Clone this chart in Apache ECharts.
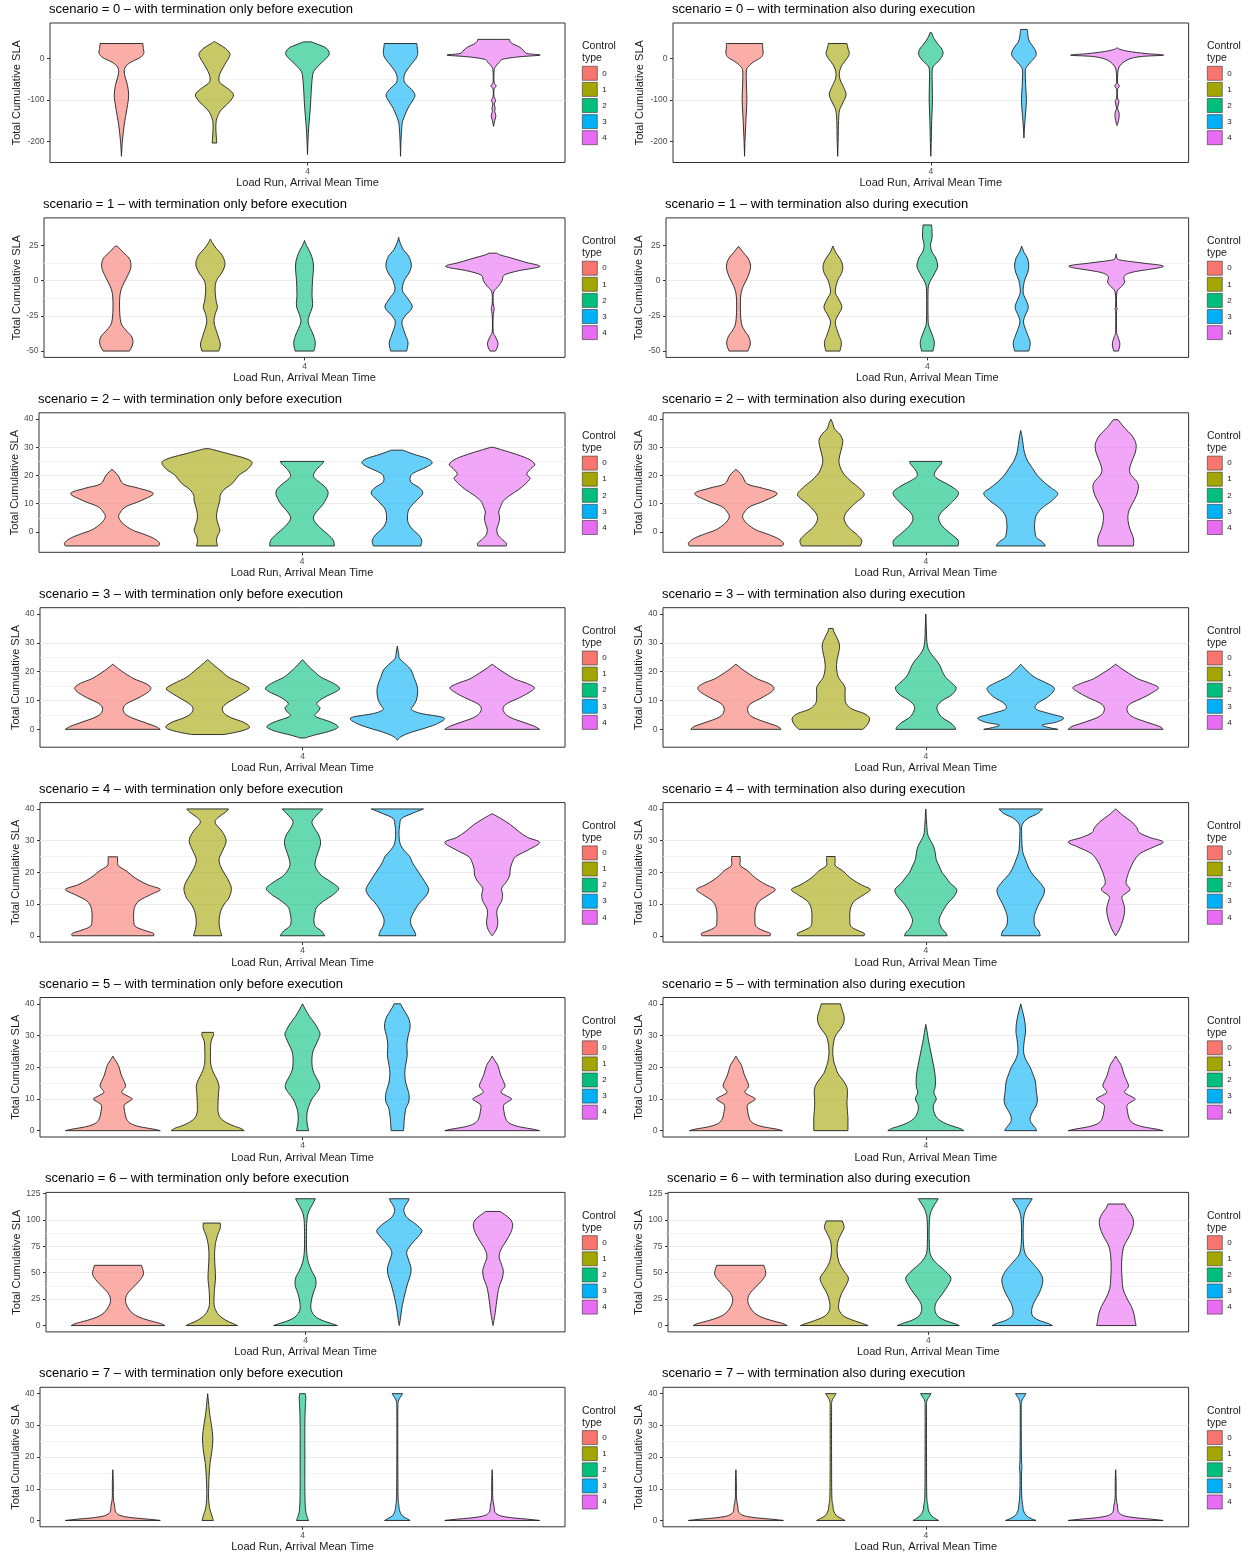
<!DOCTYPE html>
<html><head><meta charset="utf-8">
<script src="https://cdn.jsdelivr.net/npm/echarts@6/dist/echarts.min.js"></script>
<style>html,body{margin:0;padding:0;background:#fff}#c{width:1254px;height:1557px}</style>
</head><body><div id="c"></div><script>
// ---------------- data ----------------
const CONTROL_TYPES = ['0','1','2','3','4'];
const COLORS = ['#F8766D','#A3A500','#00BF7D','#00B0F6','#E76BF3'];
const SCENARIOS = [0,1,2,3,4,5,6,7];
const TERMINATION = ['with termination only before execution','with termination also during execution'];
const X_TICK_LABELS = ['4'];
const Y_LIMITS = [[-251,85.5],[-54.5,44.5],[-7.25,42.25],[-6.2,42.2],[-2,42],[-2,42],[-6,126],[-2,42]];
const Y_TICKS = [[-200,-100,0],[-50,-25,0,25],[0,10,20,30,40],[0,10,20,30,40],[0,10,20,30,40],[0,10,20,30,40],[0,25,50,75,100,125],[0,10,20,30,40]];
const Y_MINOR = [[-150,-50,50],[-37.5,-12.5,12.5,37.5],[-5,5,15,25,35],[-5,5,15,25,35],[5,15,25,35],[5,15,25,35],[12.5,37.5,62.5,87.5,112.5],[5,15,25,35]];

// violin outlines: [Total Cumulative SLA, relative half-width (1 = widest)] per control type 0..4
const S0_BEFORE = [
 [[-236,0],[-200,0.02],[-160,0.06],[-120,0.12],[-90,0.155],[-65,0.13],[-45,0.08],[-30,0.06],[-18,0.1],[-8,0.22],[2,0.4],[12,0.48],[24,0.47],[36,0.46]],
 [[-204,0.05],[-190,0.04],[-165,0.03],[-145,0.05],[-125,0.14],[-105,0.32],[-88,0.41],[-74,0.3],[-60,0.13],[-50,0.095],[-36,0.12],[-15,0.22],[2,0.31],[12,0.33],[24,0.24],[34,0.1],[41,0]],
 [[-232,0],[-200,0.01],[-160,0.03],[-120,0.06],[-80,0.08],[-50,0.1],[-32,0.13],[-16,0.25],[0,0.4],[12,0.47],[25,0.4],[34,0.22],[40,0.08]],
 [[-236,0],[-200,0.01],[-170,0.025],[-150,0.05],[-120,0.16],[-100,0.27],[-88,0.31],[-75,0.24],[-60,0.1],[-48,0.07],[-35,0.1],[-20,0.19],[0,0.33],[12,0.37],[25,0.36],[36,0.35]],
 [[-164,0],[-150,0.025],[-138,0.05],[-128,0.025],[-120,0.035],[-110,0.015],[-101,0.045],[-92,0.01],[-75,0.01],[-66,0.055],[-57,0.01],[-30,0.012],[-20,0.04],[-10,0.12],[-2,0.2],[4,0.55],[8,1.0],[12,0.72],[20,0.64],[28,0.55],[36,0.4],[42,0.35],[46,0.34]]
];
const S0_DURING = [
 [[-236,0],[-200,0.01],[-150,0.03],[-100,0.05],[-60,0.04],[-30,0.04],[-20,0.08],[-8,0.2],[2,0.35],[12,0.4],[25,0.39],[36,0.39]],
 [[-236,0],[-200,0.01],[-150,0.02],[-125,0.04],[-110,0.1],[-88,0.18],[-70,0.13],[-50,0.05],[-32,0.04],[-15,0.1],[0,0.2],[12,0.25],[25,0.22],[36,0.2]],
 [[-236,0],[-200,0.01],[-150,0.02],[-100,0.035],[-60,0.03],[-30,0.03],[-18,0.06],[-5,0.18],[10,0.26],[22,0.24],[35,0.15],[50,0.06],[62,0.02]],
 [[-192,0],[-170,0.01],[-140,0.03],[-110,0.05],[-90,0.05],[-60,0.035],[-30,0.03],[-20,0.06],[-8,0.15],[5,0.25],[15,0.26],[28,0.2],[40,0.12],[52,0.09],[62,0.08],[70,0.07]],
 [[-162,0],[-150,0.03],[-140,0.045],[-130,0.04],[-120,0.01],[-104,0.04],[-95,0.01],[-75,0.01],[-66,0.05],[-58,0.01],[-30,0.02],[-18,0.06],[-8,0.15],[0,0.3],[5,0.55],[8,1.0],[12,0.6],[17,0.25],[22,0.06],[26,0]]
];
const S1_BEFORE = [
 [[-50,0.28],[-45,0.35],[-40,0.33],[-35,0.2],[-30,0.1],[-20,0.07],[-10,0.08],[-4,0.13],[2,0.22],[8,0.3],[12,0.31],[16,0.27],[20,0.15],[24.5,0.02]],
 [[-50,0.18],[-45,0.21],[-38,0.15],[-30,0.08],[-24,0.1],[-19,0.15],[-14,0.12],[-6,0.1],[0,0.13],[6,0.25],[12,0.31],[18,0.25],[23,0.12],[27,0.04],[29.6,0]],
 [[-50,0.2],[-44,0.23],[-38,0.18],[-30,0.08],[-25,0.1],[-18,0.17],[-10,0.16],[0,0.17],[8,0.19],[14,0.18],[20,0.12],[25,0.04],[28.5,0]],
 [[-50,0.17],[-44,0.2],[-38,0.14],[-30,0.07],[-25,0.14],[-19,0.29],[-13,0.2],[-7,0.08],[0,0.12],[6,0.23],[11,0.27],[17,0.22],[22,0.1],[27,0.03],[30.8,0]],
 [[-50,0.06],[-47,0.1],[-44,0.11],[-40,0.06],[-36,0.01],[-25,0.01],[-20,0.03],[-16,0.01],[-8,0.02],[-4,0.12],[0,0.2],[4,0.25],[7,0.55],[10,1.0],[13,0.7],[16,0.4],[18,0.18],[19.5,0.08]]
];
const S1_DURING = [
 [[-50,0.2],[-45,0.25],[-40,0.22],[-35,0.12],[-30,0.06],[-20,0.04],[-10,0.05],[-4,0.1],[2,0.19],[8,0.25],[12,0.25],[16,0.2],[20,0.1],[24,0.01]],
 [[-50,0.15],[-44,0.18],[-38,0.12],[-30,0.05],[-25,0.1],[-19,0.19],[-13,0.12],[-8,0.05],[0,0.1],[5,0.18],[10,0.21],[15,0.16],[20,0.06],[24.5,0]],
 [[-50,0.12],[-44,0.15],[-38,0.1],[-32,0.03],[-25,0.015],[-10,0.015],[-3,0.03],[3,0.12],[8,0.2],[11,0.22],[16,0.18],[21,0.09],[26,0.07],[30,0.1],[35,0.1],[39.5,0.09]],
 [[-50,0.15],[-44,0.18],[-38,0.12],[-30,0.04],[-25,0.07],[-19,0.14],[-13,0.08],[-8,0.03],[0,0.06],[6,0.13],[11,0.15],[16,0.12],[20,0.05],[24.5,0]],
 [[-50,0.05],[-45,0.08],[-40,0.04],[-36,0.01],[-22,0.01],[-20,0.025],[-18,0.01],[-8,0.02],[-4,0.12],[-1,0.18],[3,0.17],[6,0.35],[10,1.0],[12.5,0.55],[14.5,0.1],[16,0.02],[19,0]]
];
const S2_BEFORE = [
 [[-5,0.98],[-4,1.0],[-2.5,0.9],[-1,0.7],[0.5,0.45],[2,0.3],[3.5,0.2],[5.3,0.14],[7,0.18],[9,0.3],[11,0.6],[13.6,0.87],[15.5,0.56],[17,0.24],[20,0.13],[22.2,0]],
 [[-5,0.22],[-3,0.2],[-1.5,0.22],[0.5,0.27],[2.5,0.24],[5,0.2],[8,0.22],[11,0.27],[13,0.28],[15,0.36],[17,0.52],[19,0.62],[20.5,0.7],[22,0.84],[24.5,0.95],[26,0.82],[27.5,0.5],[29.5,0.05]],
 [[-5,0.68],[-3,0.66],[-1,0.55],[2,0.35],[4.7,0.24],[7,0.3],[10,0.45],[13.6,0.55],[16,0.48],[18.5,0.3],[20,0.24],[22,0.3],[24,0.42],[25,0.46]],
 [[-5,0.5],[-3,0.52],[-1,0.45],[1,0.32],[3,0.24],[5,0.22],[8,0.25],[11,0.4],[13.5,0.54],[15.5,0.48],[17.5,0.3],[19.5,0.28],[21,0.36],[23,0.62],[24.5,0.74],[26,0.64],[27.5,0.36],[29,0.12]],
 [[-5,0.3],[-4,0.3],[-2.5,0.2],[-1,0.12],[1,0.1],[3,0.14],[5,0.16],[7,0.14],[9,0.18],[11,0.24],[13,0.38],[15,0.56],[17,0.7],[19,0.8],[20.5,0.73],[22.5,0.82],[24,0.9],[26,0.75],[28,0.42],[30,0.03]]
];
const S2_DURING = [
 [[-5,0.98],[-4,1.0],[-2.5,0.9],[-1,0.7],[0.5,0.45],[2,0.3],[3.5,0.2],[5.3,0.14],[7,0.18],[9,0.3],[11,0.6],[13.6,0.87],[15.5,0.56],[17,0.24],[20,0.13],[22.2,0]],
 [[-5,0.62],[-3,0.65],[-1,0.55],[1.5,0.38],[3.5,0.3],[5,0.28],[7,0.33],[10,0.5],[13,0.7],[15.5,0.6],[18,0.42],[20,0.3],[22,0.22],[25,0.17],[28,0.2],[30,0.23],[32.4,0.25],[34.6,0.19],[36.5,0.08],[38.5,0.04],[40,0]],
 [[-5,0.68],[-3,0.68],[-1,0.55],[2,0.35],[4.7,0.27],[7,0.33],[10,0.52],[13.6,0.69],[16,0.55],[18.5,0.28],[20,0.18],[22,0.22],[24,0.32],[25,0.34]],
 [[-5,0.52],[-3.5,0.45],[-2,0.33],[0,0.3],[2,0.29],[4,0.3],[6,0.33],[8.5,0.45],[11,0.65],[13.6,0.78],[15.5,0.65],[17.5,0.5],[20,0.35],[22.5,0.25],[25,0.15],[28,0.08],[31,0.05],[33.5,0.03],[36,0]],
 [[-5,0.37],[-3,0.38],[-1,0.35],[1,0.3],[4,0.26],[7,0.27],[10,0.35],[13,0.44],[16,0.48],[18,0.44],[20,0.33],[22,0.29],[25,0.34],[28,0.41],[31,0.43],[34,0.35],[37,0.18],[39.8,0.05]]
];
const S3_BEFORE = [
 [[0,1.0],[1,0.9],[2.5,0.65],[4,0.4],[5.5,0.25],[7.4,0.22],[9,0.3],[11,0.55],[13,0.75],[14.5,0.8],[16,0.68],[17.5,0.45],[19.5,0.25],[21,0.12],[22.6,0]],
 [[-1.8,0.34],[-1,0.6],[0,0.82],[1,0.88],[2.5,0.75],[4,0.5],[5.5,0.35],[7.4,0.31],[9,0.4],[11,0.6],[13,0.8],[14.3,0.87],[16,0.7],[18,0.45],[20,0.3],[22,0.15],[24.2,0]],
 [[-3,0.05],[-2,0.25],[-1,0.5],[0,0.68],[1,0.75],[2.5,0.6],[4.5,0.27],[6,0.32],[7.4,0.37],[9,0.3],[11,0.45],[13,0.7],[14.3,0.78],[16,0.65],[18,0.4],[20,0.25],[22,0.12],[24.2,0]],
 [[-3.8,0],[-2.5,0.08],[-1,0.3],[0.5,0.6],[2,0.85],[4,0.98],[5.5,0.5],[6.8,0.3],[8,0.33],[10,0.4],[13,0.43],[15.4,0.41],[18,0.35],[20.6,0.29],[22.5,0.18],[24.5,0.05],[26,0.03],[28.9,0]],
 [[0,1.0],[1,0.9],[2.5,0.65],[4,0.4],[5.5,0.27],[7.4,0.23],[9,0.32],[11,0.58],[13,0.8],[14.5,0.89],[16,0.72],[17.5,0.47],[19.5,0.27],[21,0.13],[22.6,0]]
];
const S3_DURING = [
 [[0,0.95],[1,0.88],[2.5,0.62],[4,0.38],[5.5,0.27],[7.4,0.25],[9,0.32],[11,0.55],[13,0.75],[14.5,0.8],[16,0.68],[17.5,0.45],[19.5,0.25],[21,0.12],[22.6,0]],
 [[0,0.67],[1,0.74],[2.5,0.8],[4,0.81],[5.5,0.7],[7,0.45],[9,0.32],[11,0.3],[13,0.3],[14.5,0.3],[16,0.25],[18,0.16],[21,0.12],[24,0.13],[27,0.17],[29.5,0.18],[32,0.12],[34,0.06],[35,0.05]],
 [[0,0.63],[1,0.6],[2.5,0.5],[4,0.35],[6,0.26],[8,0.24],[10,0.35],[12,0.55],[14.3,0.64],[16,0.55],[18,0.42],[20,0.35],[22,0.3],[24,0.22],[26,0.12],[28,0.05],[31,0.02],[36,0.01],[40,0]],
 [[0,0.78],[0.6,0.6],[1.5,0.45],[2.5,0.75],[4,0.9],[5.5,0.6],[7,0.32],[9,0.35],[11,0.55],[13,0.68],[14.5,0.7],[16,0.55],[18,0.3],[20,0.15],[22.6,0]],
 [[0,1.0],[1,0.92],[2.5,0.65],[4,0.4],[5.5,0.27],[7.4,0.24],[9,0.32],[11,0.58],[13,0.8],[14.5,0.9],[16,0.72],[17.5,0.47],[19.5,0.27],[21,0.13],[22.6,0]]
];
const S4_BEFORE = [
 [[0,0.86],[0.8,0.85],[1.8,0.65],[3,0.47],[5,0.44],[7,0.44],[9,0.46],[11,0.55],[13,0.8],[14.6,1.0],[16,0.75],[17.5,0.55],[19,0.4],[20.5,0.28],[22,0.12],[23.5,0.1],[24.9,0.1]],
 [[0,0.3],[2,0.26],[4,0.24],[6,0.25],[8,0.28],[10,0.35],[12,0.45],[15,0.5],[18,0.42],[21,0.3],[24,0.24],[27,0.32],[30,0.39],[33,0.3],[35.5,0.16],[37,0.2],[39,0.38],[40,0.44]],
 [[0,0.47],[1.5,0.4],[3,0.27],[5,0.24],[7,0.26],[9,0.3],[11,0.45],[13,0.65],[15,0.76],[17,0.6],[19,0.4],[21.5,0.28],[23.5,0.27],[26,0.32],[29,0.38],[31.5,0.35],[34,0.25],[36,0.2],[38,0.3],[40,0.43]],
 [[0,0.39],[1.5,0.36],[3,0.3],[5,0.28],[7,0.33],[10,0.45],[12.5,0.6],[14.6,0.66],[17,0.58],[20,0.45],[23,0.32],[25,0.26],[27,0.14],[29,0.06],[32,0.035],[35,0.05],[37,0.09],[38.5,0.3],[40,0.55]],
 [[0,0],[1,0.05],[2.5,0.1],[4.5,0.12],[6.5,0.1],[8.5,0.11],[11,0.2],[13,0.22],[15,0.2],[17,0.3],[19,0.37],[21,0.38],[23,0.42],[25,0.5],[27,0.75],[29.4,1.0],[31,0.75],[33,0.55],[35,0.39],[37,0.18],[38.5,0]]
];
const S4_DURING = [
 [[0,0.72],[0.8,0.72],[1.8,0.55],[3,0.42],[5,0.4],[7,0.4],[9,0.42],[11,0.5],[13,0.7],[14.6,0.83],[16,0.65],[17.5,0.48],[19,0.35],[20.5,0.25],[22,0.1],[23.5,0.09],[25,0.09]],
 [[0,0.7],[0.8,0.7],[1.8,0.55],[3,0.42],[5,0.4],[7,0.4],[9,0.42],[11,0.5],[13,0.7],[14.6,0.83],[16,0.65],[17.5,0.48],[19,0.35],[20.5,0.25],[22,0.1],[23.5,0.09],[25,0.09]],
 [[0,0.45],[1,0.42],[2,0.35],[3.5,0.3],[5,0.28],[7,0.33],[10,0.45],[12.5,0.6],[14.6,0.65],[16.5,0.52],[18.5,0.42],[20,0.34],[22,0.28],[24,0.22],[26,0.2],[28,0.17],[30,0.1],[32,0.04],[35,0.02],[40,0]],
 [[0,0.41],[1.5,0.38],[3,0.3],[5,0.28],[7,0.3],[10,0.38],[12.5,0.47],[14.6,0.5],[16.5,0.42],[18.5,0.3],[20,0.22],[22,0.15],[24,0.1],[26,0.05],[28,0.03],[32,0.02],[35,0.03],[37,0.15],[38.5,0.35],[40,0.46]],
 [[0,0],[1.5,0.06],[3.5,0.12],[6,0.17],[8.5,0.19],[11,0.15],[12.5,0.14],[14.5,0.3],[16.5,0.22],[19,0.25],[21,0.3],[23.5,0.38],[26,0.52],[28,0.8],[29.6,1.0],[31,0.72],[32.5,0.5],[34,0.45],[36,0.33],[38,0.15],[40,0]]
];
const S5_BEFORE = [
 [[0,1.0],[0.5,0.85],[1,0.65],[1.5,0.5],[2.5,0.35],[4,0.28],[6,0.25],[8,0.24],[9,0.32],[10,0.41],[11,0.3],[12,0.19],[13,0.22],[14,0.27],[15.5,0.24],[17.5,0.18],[20.5,0.12],[22,0.06],[23.5,0]],
 [[0,0.77],[0.7,0.7],[1.5,0.55],[2.5,0.4],[4,0.27],[6,0.22],[9,0.22],[12,0.23],[14,0.24],[16,0.2],[18,0.13],[20,0.08],[22,0.06],[25,0.06],[28,0.07],[30,0.12],[31,0.12]],
 [[0,0.13],[2,0.1],[4,0.09],[6,0.1],[8,0.14],[10,0.2],[12,0.3],[13.5,0.36],[15,0.35],[17,0.28],[19,0.22],[21,0.2],[23,0.2],[25,0.22],[27,0.28],[29,0.34],[30.5,0.37],[32,0.33],[34,0.25],[36,0.15],[38,0.07],[40,0]],
 [[0,0.13],[2,0.14],[4,0.15],[7,0.18],[9,0.24],[11,0.25],[13,0.22],[15,0.18],[17,0.16],[19,0.16],[21,0.18],[24,0.21],[27,0.2],[30,0.23],[32.5,0.27],[35,0.25],[37,0.18],[39,0.1],[40,0.07]],
 [[0,1.0],[0.5,0.85],[1,0.65],[1.5,0.5],[2.5,0.35],[4,0.28],[6,0.25],[8,0.24],[9,0.32],[10,0.41],[11,0.3],[12,0.19],[13,0.22],[14,0.27],[15.5,0.24],[17.5,0.18],[20.5,0.12],[22,0.06],[23.5,0]]
];
const S5_DURING = [
 [[0,0.98],[0.5,0.85],[1,0.65],[1.5,0.5],[2.5,0.35],[4,0.28],[6,0.25],[8,0.24],[9,0.32],[10,0.41],[11,0.3],[12,0.19],[13,0.22],[14,0.27],[15.5,0.24],[17.5,0.18],[20.5,0.12],[22,0.06],[23.5,0]],
 [[0,0.36],[2,0.36],[4,0.36],[6,0.35],[9,0.34],[12,0.35],[14,0.33],[16,0.25],[18,0.15],[20,0.1],[22,0.06],[25,0.04],[28,0.06],[30,0.1],[32,0.2],[34,0.27],[36,0.28],[38,0.24],[40,0.2]],
 [[0,0.8],[0.7,0.72],[1.5,0.55],[2.5,0.38],[4,0.24],[6,0.17],[8,0.16],[10,0.22],[12,0.17],[14,0.2],[17,0.2],[20,0.17],[23,0.13],[26,0.09],[29,0.05],[31,0.03],[33.5,0]],
 [[0,0.34],[1,0.3],[2.5,0.22],[4,0.2],[6,0.25],[8,0.33],[10,0.35],[12,0.33],[14,0.32],[16,0.3],[18,0.25],[20,0.2],[22,0.12],[24,0.07],[26,0.06],[29,0.08],[31,0.1],[34,0.09],[37,0.05],[40,0]],
 [[0,1.0],[0.5,0.85],[1,0.65],[1.5,0.5],[2.5,0.35],[4,0.28],[6,0.25],[8,0.24],[9,0.32],[10,0.41],[11,0.3],[12,0.19],[13,0.22],[14,0.27],[15.5,0.24],[17.5,0.18],[20.5,0.12],[22,0.06],[23.5,0]]
];
const S6_BEFORE = [
 [[0,1.0],[2,0.9],[5,0.65],[8,0.45],[12,0.3],[18,0.2],[24,0.16],[30,0.2],[36,0.32],[42,0.45],[48,0.54],[53,0.53],[57,0.5]],
 [[0,0.55],[2,0.45],[5,0.3],[10,0.15],[15,0.08],[20,0.05],[28,0.05],[35,0.06],[45,0.08],[55,0.07],[65,0.06],[75,0.07],[85,0.12],[92,0.18],[97,0.18]],
 [[0,0.68],[2,0.55],[5,0.35],[9,0.2],[15,0.12],[22,0.12],[30,0.16],[38,0.22],[45,0.21],[52,0.13],[60,0.06],[70,0.025],[85,0.02],[100,0.03],[108,0.07],[114,0.14],[120,0.21]],
 [[0,0],[5,0.02],[12,0.04],[20,0.07],[30,0.12],[40,0.18],[48,0.24],[55,0.25],[62,0.2],[70,0.16],[78,0.28],[85,0.42],[90,0.48],[96,0.35],[102,0.17],[108,0.1],[113,0.12],[117,0.18],[120,0.21]],
 [[0,0],[5,0.02],[10,0.04],[20,0.07],[30,0.1],[38,0.14],[45,0.2],[52,0.22],[58,0.18],[65,0.13],[72,0.17],[80,0.28],[88,0.38],[95,0.42],[100,0.38],[104,0.28],[108,0.15]]
];
const S6_DURING = [
 [[0,1.0],[2,0.9],[5,0.65],[8,0.45],[12,0.3],[18,0.2],[24,0.16],[30,0.2],[36,0.32],[42,0.45],[48,0.54],[53,0.53],[57,0.5]],
 [[0,0.72],[2,0.6],[5,0.4],[9,0.2],[15,0.1],[22,0.1],[30,0.15],[38,0.25],[45,0.3],[52,0.2],[60,0.1],[70,0.06],[80,0.08],[87,0.15],[93,0.21],[99,0.17]],
 [[0,0.66],[2,0.55],[5,0.35],[9,0.2],[15,0.14],[22,0.17],[30,0.3],[38,0.42],[45,0.48],[52,0.35],[60,0.15],[68,0.04],[80,0.02],[95,0.02],[105,0.04],[112,0.1],[117,0.17],[120,0.21]],
 [[0,0.64],[2,0.55],[5,0.35],[9,0.22],[15,0.2],[22,0.25],[30,0.35],[38,0.42],[45,0.43],[52,0.35],[60,0.2],[68,0.06],[80,0.02],[95,0.02],[105,0.04],[112,0.1],[117,0.17],[120,0.21]],
 [[0,0.42],[4,0.4],[10,0.38],[18,0.32],[26,0.22],[35,0.14],[45,0.12],[55,0.11],[65,0.12],[75,0.16],[85,0.28],[93,0.35],[100,0.36],[106,0.3],[111,0.22],[115,0.18]]
];
const S7_BEFORE = [
 [[0,1.0],[0.4,0.75],[0.8,0.45],[1.3,0.22],[2,0.1],[3,0.05],[4.5,0.04],[6,0.02],[8,0.01],[12,0.01],[16,0]],
 [[0,0.12],[2,0.08],[4,0.04],[7,0.02],[10,0.02],[14,0.03],[18,0.05],[22,0.09],[26,0.11],[30,0.08],[34,0.04],[37,0.02],[40,0]],
 [[0,0.13],[1.5,0.09],[4,0.06],[10,0.05],[20,0.05],[30,0.05],[36,0.06],[38.5,0.07],[40,0.06]],
 [[0,0.27],[0.6,0.2],[1.5,0.1],[3,0.05],[5,0.03],[8,0.015],[20,0.01],[34,0.01],[37.5,0.02],[39,0.07],[40,0.11]],
 [[0,1.0],[0.4,0.75],[0.8,0.45],[1.3,0.22],[2,0.1],[3,0.05],[4.5,0.04],[6,0.02],[8,0.01],[12,0.01],[16,0]]
];
const S7_DURING = [
 [[0,1.0],[0.4,0.75],[0.8,0.45],[1.3,0.22],[2,0.1],[3,0.05],[4.5,0.04],[6,0.02],[8,0.01],[12,0.01],[16,0]],
 [[0,0.3],[0.6,0.22],[1.5,0.12],[3,0.06],[5,0.04],[8,0.02],[20,0.015],[34,0.015],[37.5,0.02],[39,0.07],[40,0.11]],
 [[0,0.27],[0.6,0.2],[1.5,0.12],[3,0.06],[5,0.04],[8,0.02],[20,0.015],[34,0.015],[37.5,0.02],[39,0.07],[40,0.11]],
 [[0,0.32],[0.6,0.22],[1.5,0.12],[3,0.06],[5,0.04],[8,0.02],[14,0.015],[17,0.025],[20,0.015],[34,0.01],[37.5,0.02],[39,0.07],[40,0.11]],
 [[0,1.0],[0.4,0.75],[0.8,0.45],[1.3,0.22],[2,0.1],[3,0.05],[4.5,0.04],[6,0.02],[8,0.01],[12,0.01],[16,0]]
];
const PROFILES = [[S0_BEFORE,S0_DURING],[S1_BEFORE,S1_DURING],[S2_BEFORE,S2_DURING],[S3_BEFORE,S3_DURING],
                  [S4_BEFORE,S4_DURING],[S5_BEFORE,S5_DURING],[S6_BEFORE,S6_DURING],[S7_BEFORE,S7_DURING]];

// ---------------- layout ----------------
const FONT = 'Liberation Sans, Arial, sans-serif';
const ROW_TOP0 = 23, ROW_STEP = 194.9, PLOT_H = 139.5;
const PLOT_LEFT = [[50,673],[44,666],[39,663],[40,663],[40,663],[40,663],[46,668],[40,663]];
const PLOT_RIGHT = [565, 1188.6];
const YTITLE_X = [16, 639];
const LEGEND_X = [582, 1207];
const X_EXTENT = 2.768;      // dodge units from centre to panel edge
const DODGE = [-2,-1,0,1,2];
const HALF_MAX = 0.5;        // max half-width in dodge units

function rgba(hex, a){const n=parseInt(hex.slice(1),16);return `rgba(${n>>16},${(n>>8)&255},${n&255},${a})`;}
function near(v, list){return list.some(t=>Math.abs(t-v)<1e-6);}
function curve(pts, cx, side){
  let s='';
  for(let i=0;i<pts.length-1;i++){
    const p0=pts[Math.max(i-1,0)],p1=pts[i],p2=pts[i+1],p3=pts[Math.min(i+2,pts.length-1)];
    let c1x=p1[0]+(p2[0]-p0[0])/6, c1y=p1[1]+(p2[1]-p0[1])/6;
    let c2x=p2[0]-(p3[0]-p1[0])/6, c2y=p2[1]-(p3[1]-p1[1])/6;
    if(side>0){c1x=Math.max(c1x,cx);c2x=Math.max(c2x,cx);}else{c1x=Math.min(c1x,cx);c2x=Math.min(c2x,cx);}
    s+=`C${c1x} ${c1y} ${c2x} ${c2y} ${p2[0]} ${p2[1]}`;
  }
  return s;
}
function violinRenderer(profile, color){
  return function(params, api){
    const cx = api.value(0);
    const centre = api.coord([cx, profile[0][0]])[0];
    const right = profile.map(p=>api.coord([cx + p[1]*HALF_MAX, p[0]]));
    const left = profile.map(p=>api.coord([cx - p[1]*HALF_MAX, p[0]])).reverse();
    let d = `M${right[0][0]} ${right[0][1]}` + curve(right, centre, 1) +
            `L${left[0][0]} ${left[0][1]}` + curve(left, centre, -1) + 'Z';
    return {type:'path', shape:{pathData:d}, style:{fill:rgba(color,0.6), stroke:'#1f1f1f', lineWidth:0.9}};
  };
}

const grid=[], xAxis=[], yAxis=[], series=[], title=[], legend=[];
SCENARIOS.forEach((s, r)=>{
  const top = ROW_TOP0 + ROW_STEP*r;
  [0,1].forEach(c=>{
    const p = r*2+c;
    const L = PLOT_LEFT[r][c], R = PLOT_RIGHT[c];
    grid.push({left:L, top:top, width:R-L, height:PLOT_H, show:true, borderColor:'#333', borderWidth:1, backgroundColor:'rgba(0,0,0,0)'});
    xAxis.push({gridIndex:p, type:'value', min:-X_EXTENT, max:X_EXTENT, minInterval:10, maxInterval:10,
      axisLine:{show:false,onZero:false},
      axisTick:{show:true, customValues:[0], length:3, lineStyle:{color:'#333',width:1}},
      axisLabel:{customValues:[0], formatter:v=>Math.abs(v)<1e-9?X_TICK_LABELS[0]:'', fontSize:8.5, color:'#4d4d4d', margin:4.5, fontFamily:FONT},
      splitLine:{show:true, showMinLine:false, showMaxLine:false, lineStyle:{color:'#ebebeb', width:1.1}},
      name:'Load Run, Arrival Mean Time', nameLocation:'middle', nameGap:15,
      nameTextStyle:{fontSize:11, color:'#1a1a1a', fontFamily:FONT}});
    const lim = Y_LIMITS[r], ticks = Y_TICKS[r], minor = Y_MINOR[r];
    const I = ticks[1]-ticks[0];
    yAxis.push({gridIndex:p, type:'value', position:'left', min:lim[0], max:lim[1], minInterval:I, maxInterval:I,
      axisLine:{show:false,onZero:false},
      axisTick:{show:true, customValues:ticks, length:3, lineStyle:{color:'#333',width:1}},
      axisLabel:{customValues:ticks, formatter:v=>near(v,ticks)?String(v):'', fontSize:8.5, color:'#4d4d4d', margin:5.5, fontFamily:FONT},
      splitLine:{show:true, showMinLine:false, showMaxLine:false, lineStyle:{color:'#ebebeb', width:1.1}},
      name:'Total Cumulative SLA', nameLocation:'middle', nameRotate:90, nameGap:L-YTITLE_X[c]-6,
      nameTextStyle:{fontSize:11, color:'#1a1a1a', fontFamily:FONT}});
    yAxis.push({gridIndex:p, type:'value', position:'left', min:lim[0], max:lim[1], minInterval:I/2, maxInterval:I/2,
      axisLine:{show:false,onZero:false}, axisTick:{show:false, customValues:minor}, axisLabel:{show:false, customValues:minor},
      splitLine:{show:true, showMinLine:false, showMaxLine:false, lineStyle:{color:'#f1f1f1', width:0.8}}});
    title.push({text:`scenario = ${s} \u2013 ${TERMINATION[c]}`, left:L-1, top:top-20, padding:0,
      textStyle:{fontSize:13, fontWeight:'normal', color:'#000', fontFamily:FONT}});
    title.push({text:'Control\ntype', left:LEGEND_X[c], top:top+17.5, padding:0,
      textStyle:{fontSize:10.5, lineHeight:12, fontWeight:'normal', color:'#1a1a1a', fontFamily:FONT}});
    legend.push({left:LEGEND_X[c], top:top+43, orient:'vertical', padding:0, itemWidth:15, itemHeight:14, itemGap:1.5,
      icon:'rect', selectedMode:false,
      data:CONTROL_TYPES.map((n,k)=>({name:n, itemStyle:{color:COLORS[k], borderColor:'#333', borderWidth:0.6}})),
      textStyle:{fontSize:8, color:'#1a1a1a', fontFamily:FONT}});
    PROFILES[r][c].forEach((prof,k)=>{
      series.push({type:'custom', name:CONTROL_TYPES[k], xAxisIndex:p, yAxisIndex:p*2, color:COLORS[k],
        itemStyle:{color:COLORS[k]}, data:[[DODGE[k], prof[0][0]]], renderItem:violinRenderer(prof, COLORS[k]), silent:true});
    });
  });
});

const chart = echarts.init(document.getElementById('c'), null, {renderer:'canvas'});
chart.setOption({animation:false, backgroundColor:'#fff', textStyle:{fontFamily:FONT}, grid, xAxis, yAxis, series, title, legend});
</script></body></html>
